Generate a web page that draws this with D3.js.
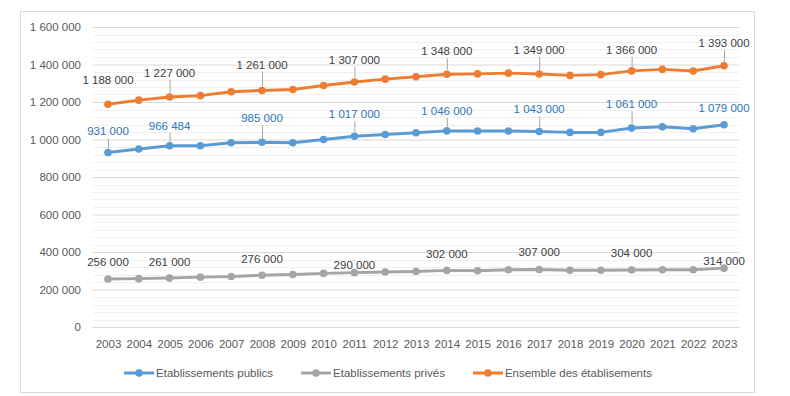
<!DOCTYPE html>
<html><head><meta charset="utf-8">
<script src="https://cdn.jsdelivr.net/npm/d3@7/dist/d3.min.js"></script>
<style>body{margin:0;background:#fff;}svg{display:block;font-family:"Liberation Sans",Arial,sans-serif;}</style>
</head><body><svg id="c" width="790" height="396"></svg>
<script>
const years = [2003,2004,2005,2006,2007,2008,2009,2010,2011,2012,2013,2014,2015,2016,2017,2018,2019,2020,2021,2022,2023];
const publics = [931000,949000,966484,967000,983000,985000,983000,1000000,1017000,1027000,1036000,1046000,1045000,1045000,1043000,1038000,1038000,1061000,1068000,1057000,1079000];
const prives = [256000,258000,261000,266000,269000,276000,280000,286000,290000,293000,296000,302000,300000,305000,307000,303000,303000,304000,305000,305000,314000];
const ensemble = [1188000,1210000,1227000,1234000,1255000,1261000,1267000,1288000,1307000,1322000,1335000,1348000,1350000,1354000,1349000,1342000,1346000,1366000,1374000,1365000,1393000];
const labelYears = [2003,2005,2008,2011,2014,2017,2020,2023];
const yTicks = [0,200000,400000,600000,800000,1000000,1200000,1400000,1600000];
const seriesNames = ["Etablissements publics","Etablissements privés","Ensemble des établisements"];

// layout / style (not data)
const colors = ["#5b9bd5","#a5a5a5","#ed7d31"];
const labelColors = ["#2e75b6","#404040","#404040"];
const labelDy = [[-21,-20,-24,-22,-20,-22,-24,-17],[-17,-16,-16,-8,-16,-17,-17,-7],[-24,-24,-26,-22,-23,-24,-21,-23]];
const leader = [[1,1,1,1,1,1,1,0],[0,0,0,0,0,0,0,0],[0,1,1,1,1,1,1,1]];

const svg = d3.select("#c");
const fr = d3.formatLocale({decimal:",",thousands:"\u00a0",grouping:[3],currency:["","€"]}).format(",d");

svg.append("rect").attr("x",20.5).attr("y",11.5).attr("width",734).attr("height",381)
  .attr("fill","#fff").attr("stroke","#d9d9d9");

const x = d3.scalePoint().domain(years).range([92.6,739.4]).padding(0.5);
const y = d3.scaleLinear().domain([0,1600000]).range([327,27]);

// minor grid
const minor = d3.range(0,1600001,40000).filter(v=>v%200000!==0);
svg.append("g").selectAll("line").data(minor).join("line")
  .attr("x1",92.6).attr("x2",739.4).attr("y1",d=>Math.round(y(d))+0.5).attr("y2",d=>Math.round(y(d))+0.5)
  .attr("stroke","#efefef").attr("stroke-width",1);
// major grid + y labels via axis
const yAxis = d3.axisLeft(y).tickValues(yTicks).tickSize(-(739.4-92.6)).tickPadding(11.6).tickFormat(fr);
const gy = svg.append("g").attr("transform","translate(92.6,0)").call(yAxis);
gy.select(".domain").remove();
gy.selectAll(".tick line").attr("stroke","#d9d9d9");
gy.selectAll(".tick text").attr("fill","#595959").style("font-size","11.5px");

const xAxis = d3.axisBottom(x).tickSize(0).tickPadding(13);
const gx = svg.append("g").attr("transform","translate(0,327)").call(xAxis);
gx.select(".domain").remove();
gx.selectAll(".tick text").attr("fill","#595959").style("font-size","11.5px");

const allSeries = [publics, prives, ensemble];
const line = d3.line().x((d,i)=>x(years[i])).y(d=>y(d));
allSeries.forEach((vals,s)=>{
  const g = svg.append("g");
  g.append("path").datum(vals).attr("d",line).attr("fill","none")
   .attr("stroke",colors[s]).attr("stroke-width",3).attr("stroke-linejoin","round");
  g.selectAll("circle").data(vals).join("circle")
   .attr("cx",(d,i)=>x(years[i])).attr("cy",d=>y(d)).attr("r",3.8).attr("fill",colors[s]);
  labelYears.forEach((yr,k)=>{
    const i = years.indexOf(yr);
    const px = x(yr), py = y(vals[i]);
    if (leader[s][k]) {
      g.append("line").attr("x1",px+0.5).attr("x2",px+0.5)
       .attr("y1",py+labelDy[s][k]+7).attr("y2",py-4)
       .attr("stroke","#a6a6a6").attr("stroke-width",1);
    }
    g.append("text").attr("x",px).attr("y",py+labelDy[s][k]).attr("dy","0.35em")
     .attr("text-anchor","middle").attr("fill",labelColors[s]).style("font-size","11.5px")
     .text(fr(vals[i]));
  });
});

// legend
const lg = svg.append("g");
let items = [];
seriesNames.forEach((n,s)=>{
  const it = lg.append("g");
  it.append("line").attr("x1",0).attr("x2",30).attr("y1",0).attr("y2",0).attr("stroke",colors[s]).attr("stroke-width",3);
  it.append("circle").attr("cx",15).attr("cy",0).attr("r",3.8).attr("fill",colors[s]);
  const t = it.append("text").attr("x",32).attr("dy","0.35em").attr("fill","#595959").style("font-size","11.5px").text(n);
  items.push({g:it,w:32+t.node().getComputedTextLength()});
});
const gap = 28;
const total = d3.sum(items,d=>d.w)+gap*(items.length-1);
let cx = 388 - total/2;
items.forEach(d=>{ d.g.attr("transform",`translate(${cx},373)`); cx += d.w+gap; });
</script></body></html>
